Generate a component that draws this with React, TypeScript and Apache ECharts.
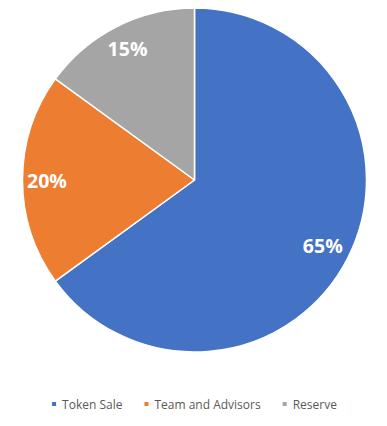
import React, { useEffect, useRef } from "react";
import * as echarts from "echarts";

const categories = ["Token Sale", "Team and Advisors", "Reserve"];
const values = [65, 20, 15];
const colors = ["#4472C4", "#ED7D31", "#A5A5A5"];

export default function App() {
  const ref = useRef<HTMLDivElement>(null);
  useEffect(() => {
    if (!ref.current) return;
    const chart = echarts.init(ref.current, undefined, { renderer: "svg" });
    const data = categories.map((name, i) => ({
      name,
      value: values[i],
      itemStyle: { color: colors[i] },
    }));
    const center = [194.5, 180];
    const labelStyle = {
      position: "inside",
      formatter: "{c}%",
      color: "#ffffff",
      fontSize: 19.5,
      fontWeight: "bold",
      fontFamily: "Open Sans",
    };
    const labelSeries = (inner: number, showIdx: number[]) => ({
      type: "pie",
      center,
      radius: [inner, 172],
      startAngle: 90,
      clockwise: true,
      silent: true,
      legendHoverLink: false,
      data: data.map((d, i) => ({
        name: d.name,
        value: d.value,
        itemStyle: { color: "rgba(0,0,0,0)" },
        label: { show: showIdx.includes(i) },
      })),
      itemStyle: { borderWidth: 0 },
      label: { show: true, ...labelStyle },
      labelLine: { show: false },
    });
    chart.setOption({
      animation: false,
      backgroundColor: "#ffffff",
      legend: {
        data: categories,
        bottom: 11,
        left: "center",
        icon: "rect",
        itemWidth: 6,
        itemHeight: 6,
        itemGap: 20,
        textStyle: { color: "#595959", fontSize: 12, fontFamily: "Open Sans" },
      },
      series: [
        {
          type: "pie",
          center,
          radius: 172,
          startAngle: 90,
          clockwise: true,
          silent: true,
          data,
          itemStyle: { borderColor: "#ffffff", borderWidth: 1.5 },
          label: { show: false },
          labelLine: { show: false },
        },
        labelSeries(110, [0]),
        labelSeries(117, [1, 2]),
      ],
    });
    return () => chart.dispose();
  }, []);
  return (
    <div
      ref={ref}
      style={{ position: "fixed", left: 0, top: 0, width: 387, height: 426 }}
    />
  );
}
